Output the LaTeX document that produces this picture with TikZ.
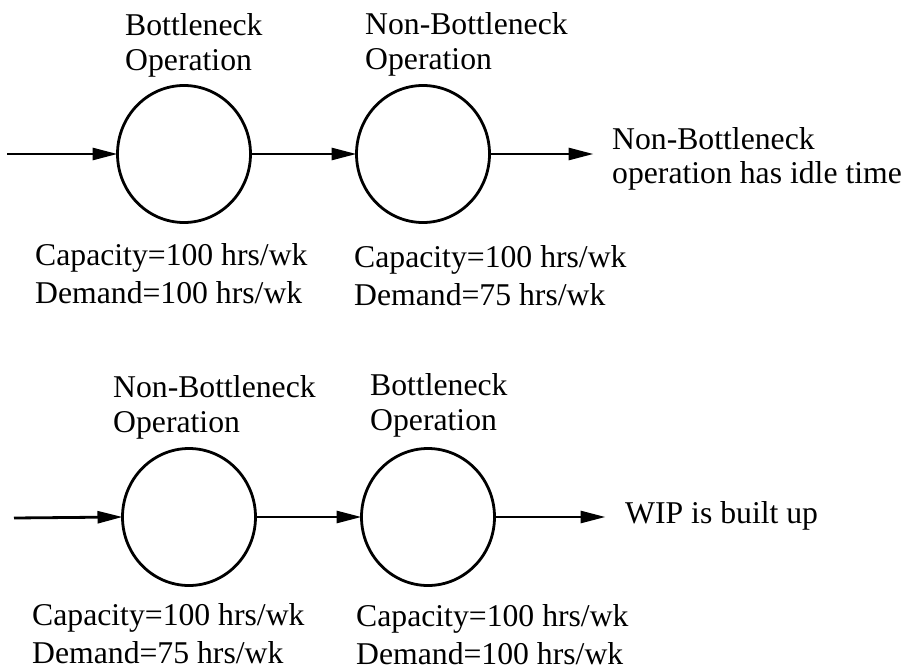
\documentclass[tikz,border=0pt]{standalone}
\usepackage{fontspec}
\setmainfont{Liberation Serif}
\usetikzlibrary{positioning, shapes.geometric, arrows.meta}
\tikzstyle{Op} = [draw, ellipse, line width=2.8pt, minimum width=133pt,
minimum height=137pt, inner sep=0pt, outer sep=0pt]
\tikzstyle{Arrow} = [
line width=2.8pt,
-{Triangle[length=25pt, width=12pt]}]
\tikzstyle{Title} = [align=left, anchor=base west, inner sep=0pt,
font=\fontsize{31.7}{35}\selectfont]
\tikzstyle{Load} = [align=left, anchor=base west, inner sep=0pt,
font=\fontsize{31.7}{38}\selectfont]

\begin{document}
\begin{tikzpicture}[x=1pt, y=-1pt, node distance=106pt]
    \useasboundingbox (0,0) rectangle (904,671);

    % top row: bottleneck first
    \node [Op] at (184,154) (b1) {};
    \node [Op, right =of b1] (n1) {};
    \coordinate (s1) at (7,154);
    \coordinate (e1) at ([xshift=104pt]n1.east);

    % bottom row: non-bottleneck first
    \node [Op] at (189,517) (n2) {};
    \node [Op, right =of n2] (b2) {};
    \coordinate (s2) at (14,518);
    \coordinate (e2) at ([xshift=111pt]b2.east);

    \node [Title] at (125,71) (t1) {Bottleneck\\Operation};
    \node [Title] at (365,70) (t2) {Non-Bottleneck\\Operation};
    \node [Title] at (113,432) (t3) {Non-Bottleneck\\Operation};
    \node [Title] at (370,430) (t4) {Bottleneck\\Operation};

    \node [Load] at (35,303) (l1) {Capacity=100 hrs/wk\\Demand=100 hrs/wk};
    \node [Load] at (354,305) (l2) {Capacity=100 hrs/wk\\Demand=75 hrs/wk};
    \node [Load] at (32,663) (l3) {Capacity=100 hrs/wk\\Demand=75 hrs/wk};
    \node [Load] at (356,664) (l4) {Capacity=100 hrs/wk\\Demand=100 hrs/wk};

    \node [Title] at (612,184) (r1) {Non-Bottleneck\\operation has idle time};
    \node [Title] at (625,523) (r2) {WIP is built up};

    \draw[Arrow] (s1) -- (b1.west);
    \draw[Arrow] (b1.east) -- (n1.west);
    \draw[Arrow] (n1.east) -- (e1);
    \draw[Arrow] (s2) -- (n2.west);
    \draw[Arrow] (n2.east) -- (b2.west);
    \draw[Arrow] (b2.east) -- (e2);
\end{tikzpicture}
\end{document}
